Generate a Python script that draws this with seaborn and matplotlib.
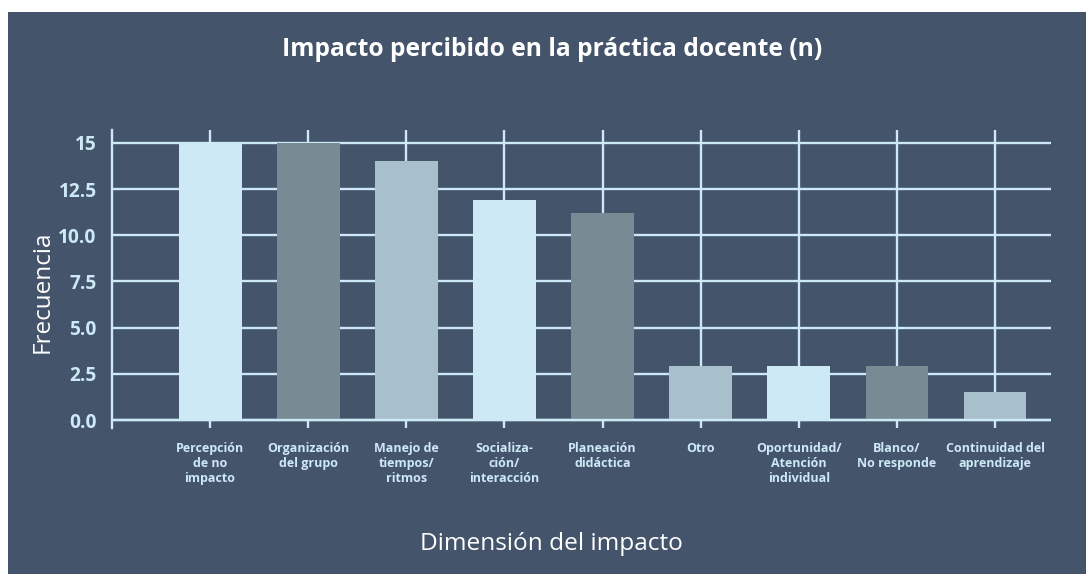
import matplotlib
matplotlib.use("Agg")
import matplotlib.pyplot as plt
from matplotlib.patches import Rectangle
import pandas as pd
import seaborn as sns

categories = [
    "Percepción\nde no\nimpacto",
    "Organización\ndel grupo",
    "Manejo de\ntiempos/\nritmos",
    "Socializa-\nción/\ninteracción",
    "Planeación\ndidáctica",
    "Otro",
    "Oportunidad/\nAtención\nindividual",
    "Blanco/\nNo responde",
    "Continuidad del\naprendizaje",
]
frecuencia = [15, 15, 14, 11.9, 11.2, 2.9, 2.9, 2.9, 1.5]
y_ticks = [0, 2.5, 5, 7.5, 10, 12.5, 15]
y_tick_labels = ["0.0", "2.5", "5.0", "7.5", "10.0", "12.5", "15"]

BG = "#44546a"
GRID = "#cde9f5"
bar_colors = ["#cde9f5", "#788a93", "#a8bfcc"] * 3

sns.set_theme(style="white")
plt.rcParams["font.family"] = ["Open Sans", "DejaVu Sans"]

df = pd.DataFrame({"dimension": categories, "n": frecuencia})

fig = plt.figure(figsize=(10.86, 5.74), dpi=100)
fig.patch.set_facecolor("white")
fig.patches.append(Rectangle((8 / 1086, 0), 1 - 8 / 1086, 1 - 12 / 574,
                             transform=fig.transFigure, facecolor=BG,
                             edgecolor="none", zorder=-10))

ax = fig.add_axes([112 / 1086, 1 - 428 / 574, (1051 - 112) / 1086, (428 - 130) / 574])
ax.set_zorder(1)
ax.set_facecolor(BG)

sns.barplot(data=df, x="dimension", y="n", hue="dimension", palette=bar_colors,
            width=0.64, legend=False, saturation=1, linewidth=0, ax=ax, zorder=2)

ax.set_xlim(-1, 8.57)
ax.set_ylim(-0.43, 15.7)
ax.set_yticks(y_ticks)
ax.set_yticklabels(y_tick_labels)

ax.grid(True, color=GRID, linewidth=1.7, zorder=1)
ax.set_axisbelow(True)
ax.axhline(0, color=GRID, linewidth=1.7, zorder=3)

for side in ["top", "right", "bottom"]:
    ax.spines[side].set_visible(False)
ax.spines["left"].set_color(GRID)
ax.spines["left"].set_linewidth(1.7)

ax.tick_params(axis="y", length=0, pad=11, labelsize=13.8, labelcolor=GRID)
ax.tick_params(axis="x", length=0, pad=10, labelsize=9, labelcolor=GRID)
for lab in ax.get_yticklabels():
    lab.set_fontweight("bold")
for lab in ax.get_xticklabels():
    lab.set_fontweight("bold")
    lab.set_linespacing(1.2)
    lab.set_ha("center")

ax.set_xlabel("")
ax.set_ylabel("")

fig.text(0.508, 1 - 50 / 574, "Impacto percibido en la práctica docente (n)",
         ha="center", va="center", color="white", fontsize=17.7, fontweight="bold")
fig.text(0.508, 1 - 544 / 574, "Dimensión del impacto",
         ha="center", va="center", color="white", fontsize=17.6)
fig.text(43 / 1086, 1 - 292 / 574, "Frecuencia", rotation=90,
         ha="center", va="center", color="white", fontsize=17.5)

fig.savefig("out.png", dpi=100, facecolor=fig.get_facecolor())
